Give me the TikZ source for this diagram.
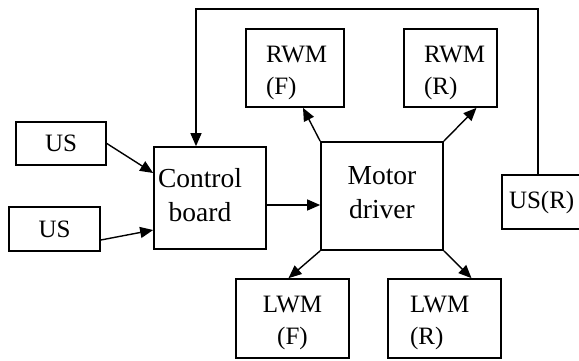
\documentclass[tikz,border=0pt]{standalone}
\usepackage{fontspec}
\setmainfont{Liberation Serif}
\usetikzlibrary{arrows.meta}
\newcommand{\dn}{\rule{0pt}{26pt}}
\begin{document}
\begin{tikzpicture}[x=1pt,y=-1pt,
  box/.style={draw=black, line width=1.7pt, rectangle, inner ysep=0pt, font=\fontsize{25}{32}\selectfont},
  bigtxt/.style={font=\fontsize{27.5}{34}\selectfont},
  arr/.style={line width=1.4pt, -{Triangle[length=13pt,width=11pt]}}]
\useasboundingbox (0,0) rectangle (579,360);
\clip (0,0) rectangle (579,360);
\fill[white] (0,0) rectangle (579,360);
% boxes
\node[box, minimum width=90, minimum height=43] (us1) at (61,143.5) {US};
\node[box, minimum width=91, minimum height=44] (us2) at (54.5,229) {US};
\node[box, bigtxt, minimum width=112, minimum height=102, inner xsep=4pt, text width=104, align=left] (ctrl) at (210,198)
  {\renewcommand\arraystretch{1}\begin{tabular}{@{}c@{}}Control\\board\end{tabular}};
\node[box, bigtxt, minimum width=122, minimum height=108, align=center] (motor) at (382,196) {Motor\\driver\rule[-8pt]{0pt}{0pt}};
\node[box, minimum width=98, minimum height=78, inner xsep=20pt, text width=58, align=left] (rwmf) at (295,68) {\dn RWM\\(F)};
\node[box, minimum width=93, minimum height=78, inner xsep=20pt, text width=53, align=left] (rwmr) at (450.5,68) {\dn RWM\\(R)};
\node[box, minimum width=113, minimum height=79, align=center] (lwmf) at (292.5,318.5) {\dn LWM\\(F)};
\node[box, minimum width=113, minimum height=79, inner xsep=22pt, text width=69, align=left] (lwmr) at (444.5,318.5) {\dn LWM\\(R)};
\node[box, minimum width=80, minimum height=54, inner xsep=7pt, text width=66, align=left] (usr) at (542,202) {US(R)};
% connectors
\draw[arr] (us1.east) -- ([yshift=25pt]ctrl.west);
\draw[arr] ([yshift=-11pt]us2.east) -- ([yshift=-32pt]ctrl.west);
\draw[arr] ([yshift=-7pt]ctrl.east) -- ([yshift=-7pt]ctrl.east -| motor.west);
\draw[arr] (motor.north west) -- ([xshift=8pt]rwmf.south);
\draw[arr] (motor.north east) -- ([xshift=26pt]rwmr.south);
\draw[arr] (motor.south west) -- ([xshift=-4pt]lwmf.north);
\draw[arr] (motor.south east) -- ([xshift=27pt]lwmr.north);
\coordinate (topr) at (538,9);
\coordinate (topl) at (196,9);
\draw[arr] (usr.north -| topr) -- (topr) -- (topl) -- (topl |- ctrl.north);
\end{tikzpicture}
\end{document}
